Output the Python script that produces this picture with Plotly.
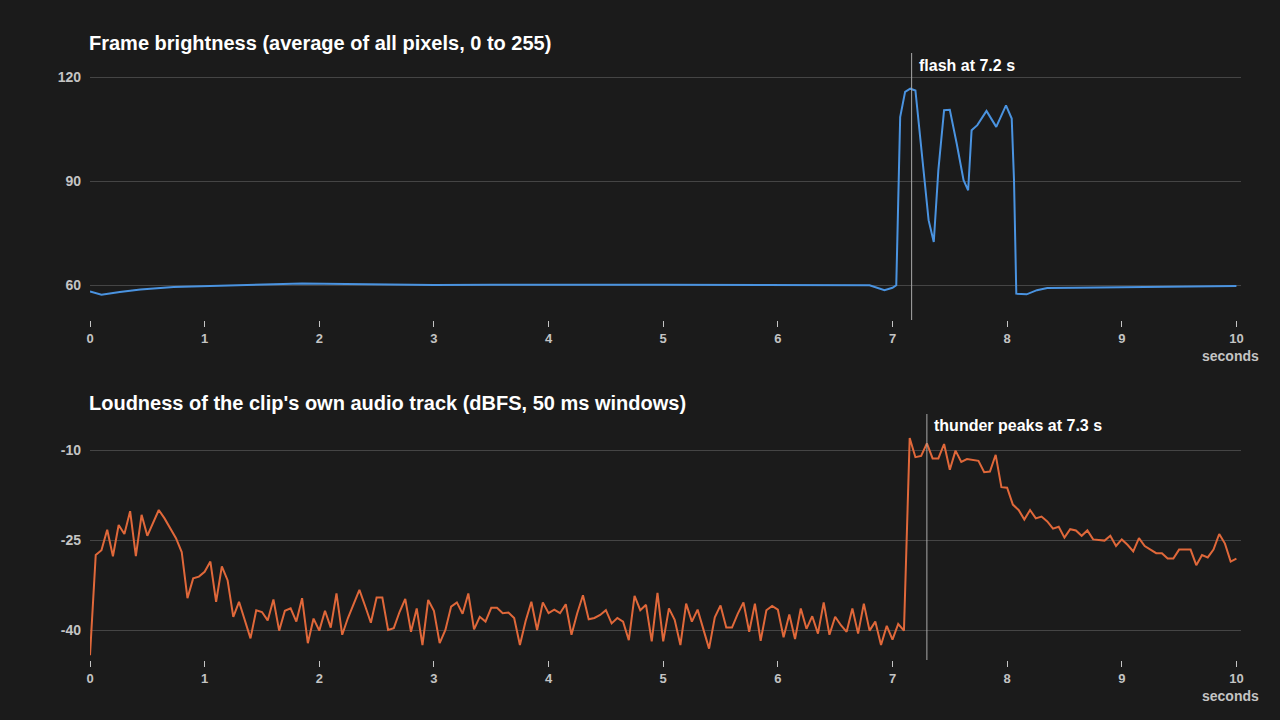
import numpy as np
import plotly.graph_objects as go

# frame brightness, sampled where the curve changes (seconds, 0-255 mean)
bright_t = [0, 0.1, 0.26, 0.44, 0.73, 1.0, 1.3, 1.6, 1.85, 2.1, 2.5, 3.0, 3.5,
            4.0, 4.5, 5.0, 5.5, 6.0, 6.5, 6.8, 6.93, 7.0, 7.033, 7.067, 7.11,
            7.155, 7.2, 7.24, 7.315, 7.36, 7.40, 7.45, 7.50, 7.56, 7.62, 7.66,
            7.69, 7.74, 7.82, 7.905, 7.99, 8.04, 8.06, 8.08, 8.17, 8.26, 8.35,
            8.6, 9.0, 9.5, 10.0]
bright_v = [58.2, 57.3, 58.1, 58.8, 59.5, 59.8, 60.0, 60.3, 60.5, 60.4, 60.2,
            60.1, 60.2, 60.3, 60.2, 60.2, 60.1, 60.2, 60.0, 60.0, 58.6, 59.3,
            60.0, 108.5, 115.8, 116.7, 116.2, 102.8, 78.8, 72.5, 93.2, 110.5,
            110.6, 100.9, 90.3, 87.4, 104.7, 106.2, 110.3, 105.7, 111.9, 108.1,
            90.3, 57.6, 57.4, 58.6, 59.2, 59.3, 59.5, 59.7, 59.8]

# loudness per 50 ms window (dBFS)
loud_db = [
    -44.2, -27.5, -26.7, -23.3, -27.7, -22.5, -24.0, -20.2, -27.7, -20.8,
    -24.3, -22.0, -20.0, -21.4, -23.0, -24.7, -27.0, -34.7, -31.4, -31.1,
    -30.3, -28.6, -35.3, -29.4, -31.7, -37.8, -35.3, -38.5, -41.4, -36.7,
    -37.0, -38.4, -34.9, -40.1, -36.8, -36.4, -38.6, -34.7, -42.2, -38.1,
    -40.1, -36.8, -39.6, -33.9, -40.8, -38.0, -35.5, -33.3, -36.0, -38.8,
    -34.6, -34.6, -40.0, -39.7, -37.0, -34.8, -40.3, -36.4, -42.5, -35.0,
    -36.8, -42.2, -40.0, -36.1, -35.4, -37.3, -33.9, -39.9, -37.8, -38.6,
    -36.3, -36.3, -37.2, -37.1, -38.0, -42.5, -38.5, -35.3, -40.0, -35.4,
    -37.2, -36.6, -37.2, -35.7, -40.8, -37.2, -34.2, -38.2, -38.0, -37.5,
    -36.7, -38.9, -38.0, -38.6, -41.7, -34.3, -36.7, -35.8, -41.9, -33.8,
    -41.9, -36.4, -38.3, -42.5, -35.6, -38.6, -36.6, -40.0, -43.1, -37.9,
    -35.9, -39.6, -39.6, -37.3, -35.4, -40.3, -35.6, -41.8, -36.7, -36.0,
    -36.6, -41.2, -37.4, -41.5, -36.4, -39.8, -37.7, -40.6, -35.4, -40.8,
    -37.8, -39.2, -40.3, -36.4, -40.6, -35.6, -40.1, -38.6, -42.5, -39.3,
    -41.6, -39.0, -40.1, -8.0, -11.2, -11.0, -8.9, -11.4, -11.4, -9.0,
    -13.3, -10.1, -12.0, -11.5, -11.7, -11.8, -13.7, -13.6, -10.8, -16.2,
    -16.3, -19.1, -20.0, -21.6, -20.0, -21.4, -21.1, -21.9, -23.1, -22.8,
    -24.6, -23.2, -23.4, -24.3, -23.4, -24.9, -25.0, -25.1, -24.3, -26.0,
    -24.9, -25.8, -26.9, -24.7, -26.0, -26.6, -27.2, -27.2, -28.1, -28.1,
    -26.6, -26.6, -26.6, -29.2, -27.5, -27.9, -26.6, -24.0, -25.6, -28.6,
    -28.1,
]
loud_t = np.arange(len(loud_db)) * 0.05

bright_ticks = [60, 90, 120]
loud_ticks = [-40, -25, -10]
sec_ticks = list(range(11))

flash_t = 7.167
thunder_t = 7.3

BG = "#1b1b1b"
GRID = "#454545"
TICK = "#c4c4c4"
FONT = "Liberation Sans, Arial, sans-serif"
W, H = 1280, 720

def px(x):
    return x / W

def py(y):
    return 1 - y / H

fig = go.Figure()
fig.add_trace(go.Scatter(x=bright_t, y=bright_v, mode="lines",
                         line=dict(color="#4a93e0", width=2),
                         xaxis="x", yaxis="y", hoverinfo="skip"))
fig.add_trace(go.Scatter(x=loud_t, y=loud_db, mode="lines",
                         line=dict(color="#e0683a", width=2),
                         xaxis="x2", yaxis="y2", hoverinfo="skip"))

xdom = [px(90), px(1241)]
xcommon = dict(domain=xdom, range=[0, 10.04], tickvals=sec_ticks,
               showgrid=False, zeroline=False, showline=False, automargin=False,
               ticks="outside", ticklen=6, tickcolor=TICK, tickwidth=1,
               tickfont=dict(family=FONT, size=13, color=TICK, weight="bold"))
ycommon = dict(showgrid=True, gridcolor=GRID, gridwidth=1, zeroline=False,
               showline=False, automargin=False, ticks="", ticklabelstandoff=8,
               tickfont=dict(family=FONT, size=14, color=TICK, weight="bold"))

fig.update_layout(
    width=W, height=H, showlegend=False,
    paper_bgcolor=BG, plot_bgcolor=BG,
    margin=dict(l=0, r=0, t=0, b=0, autoexpand=False),
    xaxis=dict(xcommon, anchor="y"),
    yaxis=dict(ycommon, domain=[py(320), py(53)], range=[50, 127],
               tickvals=bright_ticks, anchor="x"),
    xaxis2=dict(xcommon, anchor="y2"),
    yaxis2=dict(ycommon, domain=[py(660), py(414)], range=[-45, -4],
                tickvals=loud_ticks, ticktext=[str(v) for v in loud_ticks],
                anchor="x2"),
)

fig.add_shape(type="line", xref="x", yref="y domain", x0=flash_t, x1=flash_t,
              y0=0, y1=1, line=dict(color="#aaaaaa", width=1))
fig.add_shape(type="line", xref="x2", yref="y2 domain", x0=thunder_t,
              x1=thunder_t, y0=0, y1=1, line=dict(color="#aaaaaa", width=1))

titles = [
    ("<b>Frame brightness (average of all pixels, 0 to 255)</b>", py(43)),
    ("<b>Loudness of the clip's own audio track (dBFS, 50 ms windows)</b>", py(403)),
]
for txt, y in titles:
    fig.add_annotation(text=txt, x=px(90), y=y, xref="paper", yref="paper",
                       xanchor="left", yanchor="middle", showarrow=False,
                       xshift=-3,
                       font=dict(family=FONT, size=20, color="white"))
for y in [py(356), py(696)]:
    fig.add_annotation(text="<b>seconds</b>", x=px(1261), y=y, xref="paper",
                       yref="paper", xanchor="right", yanchor="middle",
                       showarrow=False,
                       font=dict(family=FONT, size=14, color=TICK))

fig.add_annotation(text="<b>flash at 7.2 s</b>", x=flash_t, y=py(65),
                   xref="x", yref="paper", xanchor="left", yanchor="middle",
                   xshift=5, showarrow=False,
                   font=dict(family=FONT, size=16, color="white"))
fig.add_annotation(text="<b>thunder peaks at 7.3 s</b>", x=thunder_t, y=py(425),
                   xref="x2", yref="paper", xanchor="left", yanchor="middle",
                   xshift=5, showarrow=False,
                   font=dict(family=FONT, size=16, color="white"))

fig.write_html("out.html", config={"displayModeBar": False}, post_script=(
    "document.body.style.margin='0';"
    "document.body.style.background='#1b1b1b';"
    "document.documentElement.style.overflow='hidden';"))
